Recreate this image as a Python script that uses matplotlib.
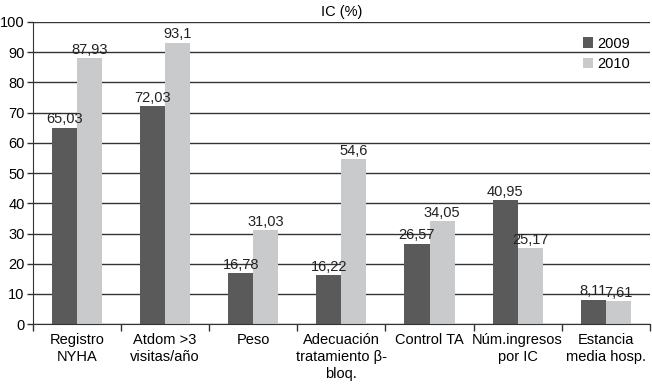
import numpy as np
import matplotlib.pyplot as plt

plt.rcParams['font.family'] = ['Liberation Sans', 'DejaVu Sans']

categories = ['Registro\nNYHA', 'Atdom >3\nvisitas/año', 'Peso',
              'Adecuación\ntratamiento β-\nbloq.', 'Control TA',
              'Núm.ingresos\npor IC', 'Estancia\nmedia hosp.']
v2009 = [65.03, 72.03, 16.78, 16.22, 26.57, 40.95, 8.11]
v2010 = [87.93, 93.1, 31.03, 54.6, 34.05, 25.17, 7.61]
lab2009 = ['65,03', '72,03', '16,78', '16,22', '26,57', '40,95', '8,11']
lab2010 = ['87,93', '93,1', '31,03', '54,6', '34,05', '25,17', '7,61']

fs = 10.5
fig = plt.figure(figsize=(6.52, 3.85), dpi=100)
ax = fig.add_axes([0.0506, 0.158, 0.946, 0.785])

x = np.arange(len(categories))
w = 0.285
ax.set_axisbelow(True)
ax.yaxis.grid(True, color='#333333', linewidth=1.0)
b1 = ax.bar(x - w/2, v2009, w, color='#5a5a5a', label='2009')
b2 = ax.bar(x + w/2, v2010, w, color='#c9cacc', label='2010')
ax.bar_label(b1, labels=lab2009, padding=1, fontsize=fs, color='#222222')
ax.bar_label(b2, labels=lab2010, padding=1, fontsize=fs, color='#222222')

ax.set_xlim(-0.5, len(categories) - 0.5)
ax.set_ylim(0, 100)
ax.set_yticks(range(0, 101, 10))
ax.set_xticks(x)
ax.set_xticklabels(categories, fontsize=fs, linespacing=1.3)
ax.set_xticks(np.arange(-0.5, len(categories)), minor=True)
ax.tick_params(axis='x', which='major', length=0, pad=6)
ax.tick_params(axis='x', which='minor', length=5, width=1, color='#333333')
ax.tick_params(axis='y', length=4, width=1, color='#333333', labelsize=fs, pad=2)
for s in ['top', 'right']:
    ax.spines[s].set_visible(False)
ax.spines['left'].set_color('#333333')
ax.spines['bottom'].set_color('#333333')

ax.set_title('IC (%)', fontsize=fs, pad=4)
ax.legend(loc='upper right', bbox_to_anchor=(0.99, 0.995), frameon=False,
          fontsize=fs, handlelength=0.7, handleheight=0.7, handletextpad=0.3,
          labelspacing=0.45)

fig.savefig('out.png', dpi=100)
